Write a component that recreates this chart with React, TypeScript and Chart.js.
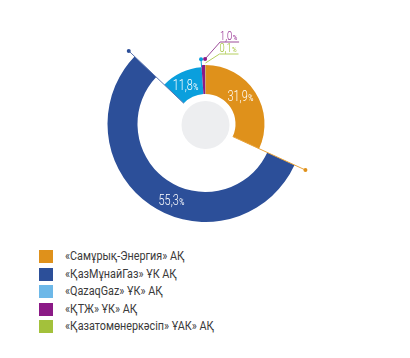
import React, { useEffect, useRef } from 'react';
import { Chart, registerables } from 'chart.js';

Chart.register(...registerables);

const categories = [
  '«Самұрық-Энергия» АҚ',
  '«ҚазМұнайГаз» ҰК АҚ',
  '«QazaqGaz» ҰК» АҚ',
  '«ҚТЖ» ҰК» АҚ',
  '«Қазатомөнеркәсіп» ҰАК» АҚ',
];
const shares = [31.9, 55.3, 11.8, 1.0, 0.1];
const shareLabels = ['31,9', '55,3', '11,8', '1,0', '0,1'];

const segColors = ['#DF911B', '#2C4F99', '#0A9FDD', '#8B1A86', '#A3C13B'];
const legendColors = ['#DF911B', '#2C4F99', '#6DB8E8', '#8B1A86', '#A3C13B'];
const labelColors = ['#FFFFFF', '#FFFFFF', '#FFFFFF', '#8B1A86', '#9FBF2F'];
const lineColors = ['#E9A33A', '#2C4F99', '#0A9FDD', '#9B4A98', '#B5CF5E'];

const innerRadii = [30, 68, 30, 30, 30];
const outerRadii = [59, 98, 57, 59, 59];

const FONT = 'Roboto, "Noto Sans", sans-serif';

function pt(arc: any, angle: number, r: number) {
  return { x: arc.x + Math.cos(angle) * r, y: arc.y + Math.sin(angle) * r };
}

function dot(ctx: CanvasRenderingContext2D, p: { x: number; y: number }, color: string) {
  ctx.beginPath();
  ctx.fillStyle = color;
  ctx.arc(p.x, p.y, 2, 0, Math.PI * 2);
  ctx.fill();
}

function line(ctx: CanvasRenderingContext2D, pts: { x: number; y: number }[], color: string) {
  ctx.beginPath();
  ctx.strokeStyle = color;
  ctx.lineWidth = 1;
  ctx.moveTo(pts[0].x, pts[0].y);
  for (let i = 1; i < pts.length; i++) ctx.lineTo(pts[i].x, pts[i].y);
  ctx.stroke();
}

const SQUEEZE = 0.78;

function pctText(ctx: CanvasRenderingContext2D, num: string, x: number, y: number, color: string, size: number, align: 'center' | 'left') {
  ctx.save();
  ctx.fillStyle = color;
  ctx.textBaseline = 'alphabetic';
  ctx.textAlign = 'left';
  const small = Math.round(size * 0.66);
  ctx.font = `300 ${size}px ${FONT}`;
  const w1 = ctx.measureText(num).width;
  ctx.font = `400 ${small}px ${FONT}`;
  const w2 = ctx.measureText('%').width;
  const total = (w1 + w2 + 0.5) * SQUEEZE;
  const start = align === 'center' ? x - total / 2 : x;
  ctx.translate(start, y);
  ctx.scale(SQUEEZE, 1);
  ctx.font = `300 ${size}px ${FONT}`;
  ctx.fillText(num, 0, 0);
  ctx.font = `400 ${small}px ${FONT}`;
  ctx.fillText('%', w1 + 0.5, 0);
  ctx.restore();
}

const ringPlugin = {
  id: 'ringPlugin',
  afterDatasetUpdate(chart: any, args: any) {
    const meta = chart.getDatasetMeta(args.index);
    meta.data.forEach((arc: any, i: number) => {
      arc.innerRadius = innerRadii[i];
      arc.outerRadius = outerRadii[i];
    });
  },
  beforeDatasetsDraw(chart: any) {
    const meta = chart.getDatasetMeta(0);
    const a = meta.data[0];
    if (!a) return;
    const ctx = chart.ctx;
    ctx.save();
    ctx.beginPath();
    ctx.fillStyle = '#EDEEF0';
    ctx.arc(a.x, a.y + 1, 24, 0, Math.PI * 2);
    ctx.fill();
    ctx.restore();
  },
  afterDatasetsDraw(chart: any) {
    const meta = chart.getDatasetMeta(0);
    const arcs = meta.data;
    const ctx = chart.ctx;
    ctx.save();
    {
      const a = arcs[0];
      const p1 = pt(a, a.endAngle, 30);
      const p2 = pt(a, a.endAngle, 110);
      line(ctx, [p1, p2], lineColors[0]);
      dot(ctx, p2, segColors[0]);
    }
    {
      const a = arcs[1];
      const p1 = pt(a, a.endAngle, 30);
      const p2 = pt(a, a.endAngle, 106);
      line(ctx, [p1, p2], '#5A74B0');
      dot(ctx, p2, segColors[1]);
    }
    {
      const a = arcs[2];
      const p1 = pt(a, a.endAngle, outerRadii[2]);
      const p2 = pt(a, a.endAngle, 65);
      line(ctx, [p1, p2], lineColors[2]);
      dot(ctx, p2, segColors[2]);
    }
    {
      const a = arcs[3];
      const p1 = pt(a, a.endAngle, 65);
      const elbow = { x: p1.x + 15, y: p1.y - 17 };
      const end = { x: elbow.x + 19, y: elbow.y };
      line(ctx, [p1, elbow, end], lineColors[3]);
      dot(ctx, p1, segColors[3]);
      pctText(ctx, shareLabels[3], elbow.x, elbow.y - 2, labelColors[3], 12, 'left');
    }
    {
      const a = arcs[4];
      const p1 = pt(a, a.endAngle, 61);
      const elbow = { x: p1.x + 14, y: p1.y - 9 };
      const end = { x: elbow.x + 19, y: elbow.y };
      line(ctx, [p1, elbow, end], lineColors[4]);
      pctText(ctx, shareLabels[4], elbow.x, elbow.y - 2, labelColors[4], 12, 'left');
    }
    [0, 1, 2].forEach((i) => {
      const a = arcs[i];
      const ang = a.startAngle + (a.endAngle - a.startAngle) * 0.45;
      const r = (innerRadii[i] + outerRadii[i]) / 2;
      const p = pt(a, ang, r);
      pctText(ctx, shareLabels[i], p.x, p.y + 5, labelColors[i], 14, 'center');
    });
    ctx.restore();
  },
};

export default function App() {
  const canvasRef = useRef<HTMLCanvasElement | null>(null);

  useEffect(() => {
    if (!canvasRef.current) return;
    const chart = new Chart(canvasRef.current, {
      type: 'doughnut',
      data: {
        labels: categories,
        datasets: [
          {
            data: shares,
            backgroundColor: segColors,
            borderWidth: 0,
          },
        ],
      },
      options: {
        responsive: false,
        animation: false,
        events: [],
        radius: 98,
        cutout: 30,
        layout: { padding: { left: 1, right: 0, top: 0, bottom: 0 } },
        plugins: {
          legend: { display: false },
          tooltip: { enabled: false },
        },
      },
      plugins: [ringPlugin],
    } as any);
    return () => chart.destroy();
  }, []);

  return (
    <div style={{ position: 'fixed', left: 0, top: 0, width: 410, height: 358, background: '#fff', overflow: 'hidden' }}>
      <canvas ref={canvasRef} width={410} height={248} style={{ position: 'absolute', left: 0, top: 0 }} />
      {categories.map((c, i) => (
        <div
          key={c}
          style={{
            position: 'absolute',
            left: 39,
            top: 250 + i * 17.5,
            height: 13,
            display: 'flex',
            alignItems: 'center',
          }}
        >
          <div style={{ width: 14, height: 13, background: legendColors[i], flex: 'none' }} />
          <span
            style={{
              marginLeft: 12,
              fontFamily: FONT,
              fontSize: 12,
              color: '#3A3A3A',
              whiteSpace: 'nowrap',
              lineHeight: '13px',
              display: 'inline-block',
              transform: 'scaleX(0.9)',
              transformOrigin: 'left center',
            }}
          >
            {c}
          </span>
        </div>
      ))}
    </div>
  );
}
